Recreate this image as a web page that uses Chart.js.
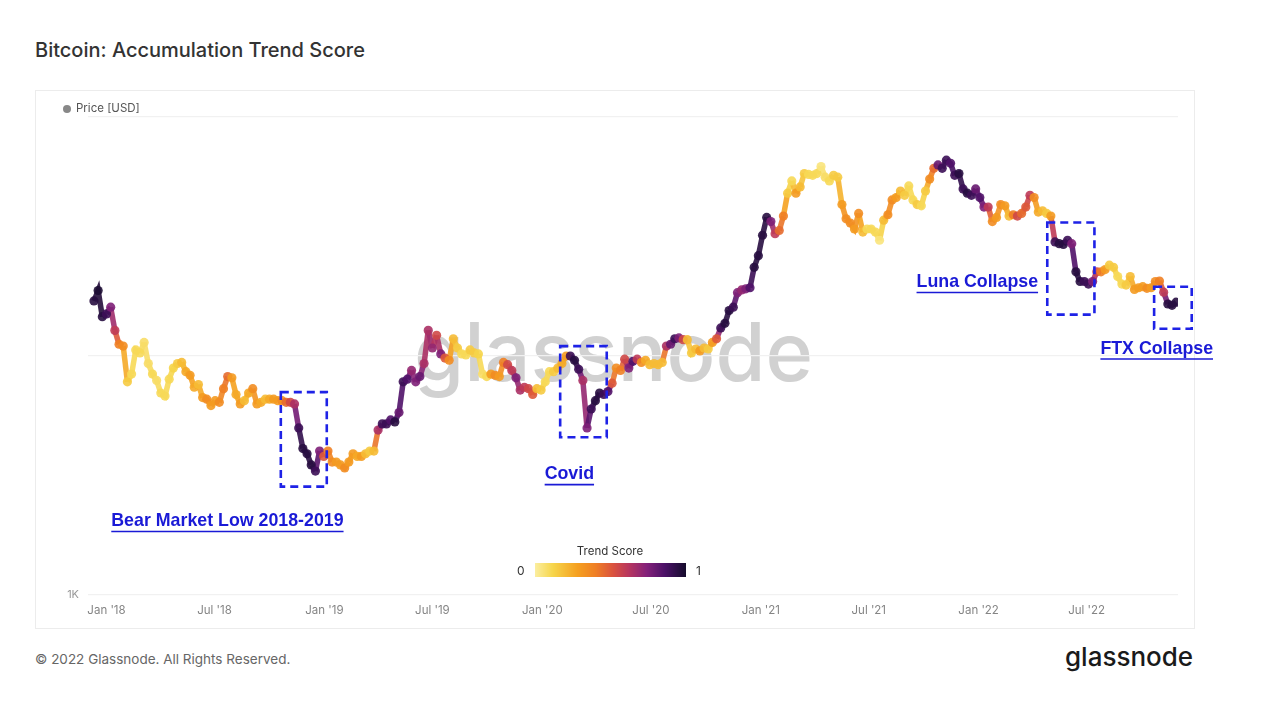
<!DOCTYPE html>
<html>
<head>
<meta charset="utf-8">
<script src="https://cdn.jsdelivr.net/npm/chart.js@4.4.0/dist/chart.umd.min.js"></script>
<style>
html,body{margin:0;padding:0;background:#fff;width:1280px;height:718px;overflow:hidden;font-family:Inter,"Open Sans",sans-serif;}
#title{position:absolute;left:35px;top:38px;font-size:20px;color:#333;font-weight:500;white-space:nowrap;}
#frame{position:absolute;left:35px;top:90px;width:1158px;height:537px;border:1px solid #ececec;}
#wm{position:absolute;left:414px;top:312px;font-size:81px;line-height:81px;color:rgba(175,175,175,0.58);font-weight:500;white-space:nowrap;}
#wrap{position:absolute;left:35px;top:90px;width:1200px;height:538px;}
#legend{position:absolute;left:63px;top:101px;font-size:11.5px;color:#555;white-space:nowrap;}
#legend span.dot{display:inline-block;width:8px;height:8px;border-radius:50%;background:#888;margin-right:5px;vertical-align:-1px;}
#cb-title{position:absolute;left:560px;top:544px;width:100px;text-align:center;font-size:11.5px;color:#333;}
#cb-bar{position:absolute;left:535px;top:563px;width:151px;height:14px;}
#cb-0{position:absolute;left:517px;top:563px;font-size:12px;color:#333;}
#cb-1{position:absolute;left:696px;top:563px;font-size:12px;color:#333;}
#foot{position:absolute;left:35px;top:651px;font-size:13.5px;color:#666;white-space:nowrap;}
#logo{position:absolute;left:1065px;top:641px;font-size:26px;color:#1a1a1a;font-weight:500;white-space:nowrap;}
</style>
</head>
<body>
<div id="title">Bitcoin: Accumulation Trend Score</div>
<div id="frame"></div>
<div id="wm">glassnode</div>
<div id="wrap"><canvas id="c" width="1200" height="538"></canvas></div>
<div id="legend"><span class="dot"></span>Price [USD]</div>
<div id="cb-title">Trend Score</div>
<div id="cb-bar"></div>
<div id="cb-0">0</div>
<div id="cb-1">1</div>
<div id="foot">© 2022 Glassnode. All Rights Reserved.</div>
<div id="logo">glassnode</div>
<script>
// ---- data (weekly samples starting 2017-12-11) ----
const firstWeek = '2017-12-11';
const priceK = [
  17.0, 18.8, 14.6,
  15.0, 16.0, 12.8, 11.2, 11.0,
  7.8, 8.4, 10.6, 10.3,
  11.4, 9.3, 8.4, 7.9,
  7.0, 6.8, 8.0, 8.9, 9.3,
  9.4, 8.6, 8.3, 7.4,
  7.6, 6.7, 6.6, 6.2,
  6.5, 6.4, 7.3, 8.2, 8.1,
  6.9, 6.3, 6.5, 7.0,
  7.3, 6.3, 6.4, 6.6,
  6.6, 6.6, 6.5, 6.5, 6.4,
  6.4, 6.3, 5.0, 4.1,
  3.9, 3.5, 3.3, 4.0, 3.8,
  4.0, 3.6, 3.6, 3.5,
  3.4, 3.6, 3.9, 3.8,
  3.8, 3.9, 4.0, 4.0,
  4.9, 5.2, 5.2, 5.4, 5.3,
  5.8, 7.8, 8.0, 8.7,
  7.8, 8.2, 9.3, 12.8,
  10.8, 12.2, 10.2, 9.8, 9.6,
  11.8, 10.8, 10.2, 10.1,
  10.6, 10.3, 10.2, 8.4, 8.2,
  8.4, 8.3, 8.2, 9.4,
  9.2, 8.7, 8.1, 7.2,
  7.4, 7.3, 6.9, 7.3, 7.2,
  7.8, 8.6, 8.6, 8.9,
  9.3, 10.0, 10.0, 9.6,
  8.8, 7.9, 5.0, 6.0, 6.5,
  7.0, 6.9, 7.1, 7.7,
  8.9, 8.7, 9.7, 8.9,
  9.5, 9.7, 9.4, 9.6, 9.2,
  9.3, 9.2, 9.4, 11.0,
  11.2, 11.8, 11.9, 11.7, 11.7,
  10.3, 10.7, 10.5, 10.8,
  10.7, 11.4, 11.8, 13.1,
  13.7, 15.5, 16.0, 18.4, 18.9,
  19.1, 19.3, 23.5, 26.3,
  32.0, 38.0, 36.5, 32.5,
  33.5, 38.5, 48.0, 54.0,
  48.0, 51.0, 58.0, 57.5, 57.0,
  58.0, 62.0, 56.0, 54.0,
  57.0, 56.0, 43.0, 37.5, 36.0,
  34.0, 39.5, 33.0, 34.0,
  34.0, 33.0, 30.5, 37.0,
  39.0, 45.0, 46.0, 49.0, 47.0,
  51.5, 45.0, 43.0, 42.5,
  49.0, 55.0, 61.0, 63.0,
  61.0, 66.0, 64.0, 57.0, 58.0,
  50.0, 48.0, 47.0, 50.0,
  46.0, 42.0, 42.0, 36.5, 38.0,
  43.0, 42.5, 38.5, 39.0,
  38.5, 39.5, 42.0, 47.0,
  46.0, 40.0, 40.5, 39.5,
  38.5, 30.0, 29.5, 29.3, 30.5,
  29.5, 22.5, 20.5, 20.5,
  20.0, 20.5, 22.5, 22.5,
  23.0, 24.0, 23.5, 21.5, 20.0,
  19.8, 21.5, 19.0, 19.3,
  19.5, 19.2, 19.3, 20.5, 20.6,
  18.5, 16.5, 16.3, 16.8
];
const trendScore = [
  0.95, 0.98, 0.95,
  0.9, 0.75, 0.6, 0.4, 0.35,
  0.15, 0.1, 0.1, 0.1,
  0.08, 0.08, 0.1, 0.08,
  0.1, 0.1, 0.1, 0.12, 0.15,
  0.2, 0.25, 0.3, 0.25,
  0.2, 0.3, 0.35, 0.3,
  0.3, 0.35, 0.4, 0.45, 0.3,
  0.25, 0.3, 0.2, 0.25,
  0.35, 0.3, 0.25, 0.2,
  0.25, 0.3, 0.3, 0.35, 0.45,
  0.55, 0.65, 0.9, 0.95,
  0.95, 0.95, 0.9, 0.75, 0.5,
  0.4, 0.35, 0.3, 0.3,
  0.35, 0.3, 0.3, 0.25,
  0.3, 0.2, 0.15, 0.2,
  0.65, 0.9, 0.9, 0.85, 0.95,
  0.8, 0.9, 0.85, 0.7,
  0.75, 0.8, 0.65, 0.65,
  0.7, 0.55, 0.75, 0.5, 0.35,
  0.2, 0.15, 0.1, 0.1,
  0.15, 0.15, 0.12, 0.08, 0.1,
  0.3, 0.35, 0.3, 0.4,
  0.55, 0.6, 0.75, 0.65,
  0.6, 0.55, 0.5, 0.2, 0.15,
  0.1, 0.1, 0.15, 0.2,
  0.25, 0.3, 0.9, 0.95,
  0.9, 0.65, 0.75, 0.9, 0.95,
  0.95, 0.9, 0.85, 0.5,
  0.35, 0.4, 0.55, 0.75,
  0.85, 0.6, 0.35, 0.25, 0.2,
  0.2, 0.2, 0.2, 0.65,
  0.8, 0.9, 0.75, 0.55, 0.2,
  0.15, 0.2, 0.3, 0.2,
  0.15, 0.3, 0.5, 0.9,
  0.95, 0.95, 0.9, 0.75, 0.7,
  0.75, 0.85, 0.95, 0.95,
  0.95, 0.95, 0.75, 0.6,
  0.45, 0.4, 0.15, 0.1,
  0.3, 0.2, 0.15, 0.1, 0.1,
  0.1, 0.05, 0.08, 0.1,
  0.15, 0.15, 0.3, 0.35, 0.35,
  0.3, 0.35, 0.2, 0.1,
  0.1, 0.1, 0.05, 0.2,
  0.35, 0.35, 0.3, 0.2, 0.15,
  0.1, 0.1, 0.15, 0.1,
  0.15, 0.35, 0.45, 0.8,
  0.9, 0.9, 0.85, 0.9, 0.95,
  0.9, 0.95, 0.9, 0.8,
  0.85, 0.75, 0.6, 0.35, 0.3,
  0.35, 0.3, 0.2, 0.4,
  0.55, 0.45, 0.5, 0.6,
  0.35, 0.25, 0.2, 0.15,
  0.3, 0.9, 0.95, 0.95, 0.9,
  0.75, 0.95, 0.95, 0.9,
  0.9, 0.75, 0.55, 0.4,
  0.3, 0.15, 0.15, 0.1, 0.1,
  0.15, 0.2, 0.3, 0.3,
  0.3, 0.35, 0.3, 0.35, 0.4,
  0.6, 0.95, 0.95, 0.95
];
const tickDates = ['2018-01-01','2018-07-01','2019-01-01','2019-07-01','2020-01-01','2020-07-01','2021-01-01','2021-07-01','2022-01-01','2022-07-01'];
const tickLabels = ["Jan '18","Jul '18","Jan '19","Jul '19","Jan '20","Jul '20","Jan '21","Jul '21","Jan '22","Jul '22"];
const yTickValues = [1000, 10000, 100000];
const yTickLabels = ['1K', '', ''];
// annotations: [from date, to date, high price, low price]
const boxFrom = ['2018-10-20', '2020-01-31', '2022-04-26', '2022-10-22'];
const boxTo   = ['2019-01-05', '2020-04-18', '2022-07-14', '2022-12-24'];
const boxHigh = [7060, 11000, 36200, 19500];
const boxLow  = [2840, 4570, 14900, 13000];
const noteText = ['Bear Market Low 2018-2019', 'Covid', 'Luna Collapse', 'FTX Collapse'];
const noteDate = ['2018-01-09', '2020-01-05', '2021-09-19', '2022-07-24'];
const notePrice = [2030, 3190, 20300, 10700];

// ---- helpers ----
const DAY = 86400000, EPOCH = Date.UTC(2018,0,1);
function dayOf(s){ const [a,b,c]=s.split('-').map(Number); return (Date.UTC(a,b-1,c)-EPOCH)/DAY; }
const stops = [
  [0.00,[251,238,160]],[0.12,[246,213,74]],[0.28,[245,160,32]],[0.40,[239,127,36]],
  [0.52,[217,81,63]],[0.62,[184,54,94]],[0.74,[131,33,122]],[0.86,[75,17,103]],[1.00,[21,12,44]]
];
function colorOf(t, a){
  t=Math.max(0,Math.min(1,t));
  for(let i=1;i<stops.length;i++){
    if(t<=stops[i][0]){
      const [t0,c0]=stops[i-1],[t1,c1]=stops[i];
      const f=(t-t0)/(t1-t0);
      const c=c0.map((v,k)=>Math.round(v+(c1[k]-v)*f));
      return `rgba(${c[0]},${c[1]},${c[2]},${a===undefined?1:a})`;
    }
  }
  return 'rgb(21,12,44)';
}
document.getElementById('cb-bar').style.background =
  'linear-gradient(to right,' + stops.map(s=>colorOf(s[0])+' '+(s[0]*100)+'%').join(',') + ')';

const d0 = dayOf(firstWeek);
const pts = priceK.map((p,i)=>({x:d0+7*i, y:p*1000}));
const ptColors = trendScore.map(s=>colorOf(s,0.9));

const annot = {
  id:'annot',
  afterDatasetsDraw(chart){
    const {ctx, scales:{x,y}} = chart;
    ctx.save();
    ctx.strokeStyle = '#1e22e6';
    ctx.lineWidth = 2.6;
    ctx.setLineDash([8,5]);
    for(let i=0;i<boxFrom.length;i++){
      const x0=x.getPixelForValue(dayOf(boxFrom[i])), x1=x.getPixelForValue(dayOf(boxTo[i]));
      const y0=y.getPixelForValue(boxHigh[i]), y1=y.getPixelForValue(boxLow[i]);
      ctx.strokeRect(x0,y0,x1-x0,y1-y0);
    }
    ctx.setLineDash([]);
    ctx.font = 'bold 17.8px "Liberation Sans", Arial, sans-serif';
    ctx.fillStyle = '#1a1ad6';
    ctx.strokeStyle = '#1a1ad6';
    ctx.lineWidth = 1.6;
    ctx.textBaseline = 'middle';
    for(let i=0;i<noteText.length;i++){
      const tx=x.getPixelForValue(dayOf(noteDate[i])), ty=y.getPixelForValue(notePrice[i]);
      ctx.fillText(noteText[i], tx, ty);
      const w=ctx.measureText(noteText[i]).width;
      ctx.beginPath(); ctx.moveTo(tx, ty+10); ctx.lineTo(tx+w, ty+10); ctx.stroke();
    }
    ctx.restore();
  }
};

new Chart(document.getElementById('c'), {
  type:'line',
  data:{
    datasets:[
      {
        data: pts,
        borderWidth: 5.5,
        pointRadius: 0,
        tension: 0,
        segment:{ borderColor: c => colorOf((trendScore[c.p0DataIndex]+trendScore[c.p1DataIndex])/2, 0.9) },
        order: 2
      },
      {
        data: pts,
        showLine: false,
        pointRadius: 4.6,
        pointBorderWidth: 0,
        pointBackgroundColor: ptColors,
        order: 1
      }
    ]
  },
  options:{
    responsive:false,
    animation:false,
    events:[],
    layout:{padding:{left:0,right:57,top:27,bottom:0}},
    plugins:{legend:{display:false},tooltip:{enabled:false}},
    scales:{
      x:{
        type:'linear', min:-31, max:1795,
        afterFit: s=>{ s.height = 33; },
        afterBuildTicks: s=>{ s.ticks = tickDates.map(d=>({value:dayOf(d)})); },
        grid:{display:false, drawTicks:false},
        border:{display:false},
        ticks:{
          autoSkip:false, maxRotation:0, padding:9,
          color:'#858585', font:{family:'Inter, "Open Sans", sans-serif', size:11.5},
          callback: v => { const i = tickDates.findIndex(d=>dayOf(d)===v); return i>=0 ? tickLabels[i] : ''; }
        }
      },
      y:{
        type:'logarithmic', min:1000, max:100000,
        afterFit: s=>{ s.width = 53; },
        afterBuildTicks: s=>{ s.ticks = yTickValues.map(v=>({value:v})); },
        grid:{color:'#f1f1f1', drawTicks:false, lineWidth:1.2},
        border:{display:false},
        ticks:{
          padding:9, color:'#999', font:{family:'Inter, "Open Sans", sans-serif', size:11},
          callback: v => { const i = yTickValues.indexOf(v); return i>=0 ? yTickLabels[i] : ''; }
        }
      }
    }
  },
  plugins:[annot]
});
</script>
</body>
</html>
